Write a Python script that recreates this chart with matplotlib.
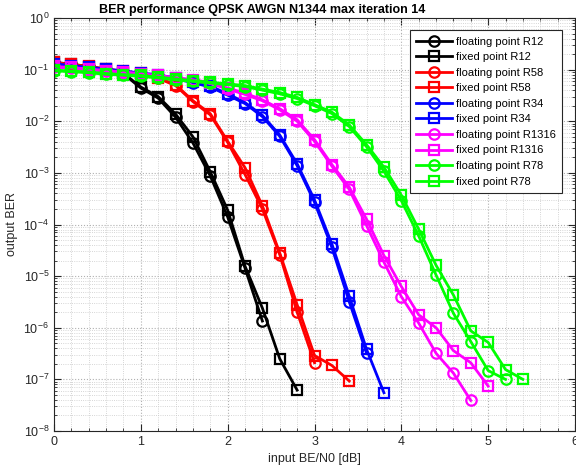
import numpy as np
import matplotlib.pyplot as plt
from matplotlib.ticker import MultipleLocator, LogLocator, NullFormatter

plt.rcParams['font.family'] = ['Liberation Sans', 'DejaVu Sans']

STEP = 0.2

# BER values, one point per 0.2 dB starting at 0 dB
float_r12 = [0.135, 0.126, 0.112, 0.1, 0.083, 0.044, 0.028, 0.012, 3.8e-3, 8.7e-4,
             1.4e-4, 1.43e-5, 1.35e-6]
fixed_r12 = [0.138, 0.128, 0.114, 0.102, 0.085, 0.046, 0.03, 1.38e-2, 5.0e-3, 1.05e-3,
             1.9e-4, 1.56e-5, 2.4e-6, 2.5e-7, 6.2e-8]

float_r58 = [0.135, 0.123, 0.112, 0.1, 0.091, 0.083, 0.068, 0.049, 0.024, 1.33e-2,
             3.9e-3, 9.3e-4, 2.0e-4, 2.6e-5, 2.0e-6, 2.1e-7]
fixed_r58 = [0.138, 0.126, 0.115, 0.103, 0.093, 0.085, 0.07, 0.051, 0.025, 1.4e-2,
             4.1e-3, 1.26e-3, 2.3e-4, 2.8e-5, 2.8e-6, 2.9e-7, 1.86e-7, 9.3e-8]

float_r34 = [0.126, 0.117, 0.107, 0.1, 0.091, 0.083, 0.076, 0.066, 0.056, 0.046,
             0.032, 0.022, 1.23e-2, 5.1e-3, 1.38e-3, 2.7e-4, 3.6e-5, 3.2e-6, 3.2e-7]
fixed_r34 = [0.13, 0.12, 0.11, 0.103, 0.094, 0.086, 0.079, 0.069, 0.058, 0.048,
             0.034, 0.023, 1.3e-2, 5.4e-3, 1.5e-3, 3.0e-4, 4.2e-5, 4.1e-6, 3.8e-7, 5.5e-8]

float_r1316 = [0.112, 0.107, 0.1, 0.093, 0.087, 0.081, 0.074, 0.068, 0.062, 0.054,
               0.042, 0.033, 0.025, 0.0166, 1.0e-2, 4.1e-3, 1.35e-3, 4.8e-4, 9.5e-5,
               1.86e-5, 4.0e-6, 1.23e-6, 3.2e-7, 1.32e-7, 3.9e-8]
fixed_r1316 = [0.115, 0.11, 0.103, 0.096, 0.09, 0.084, 0.077, 0.07, 0.064, 0.056,
               0.044, 0.035, 0.026, 0.0175, 1.07e-2, 4.4e-3, 1.45e-3, 5.3e-4, 1.26e-4,
               2.5e-5, 6.3e-6, 1.78e-6, 1.0e-6, 3.6e-7, 2.1e-7, 7.4e-8]

float_r78 = [0.095, 0.091, 0.087, 0.081, 0.078, 0.074, 0.069, 0.063, 0.059, 0.055,
             0.051, 0.047, 0.04, 0.034, 0.0275, 0.02, 0.0141, 7.9e-3, 3.2e-3, 1.07e-3,
             2.9e-4, 6.0e-5, 1.05e-5, 1.9e-6, 5.4e-7, 1.48e-7, 1.0e-7]
fixed_r78 = [0.098, 0.094, 0.09, 0.084, 0.08, 0.077, 0.072, 0.066, 0.061, 0.057,
             0.053, 0.049, 0.042, 0.036, 0.029, 0.021, 0.015, 8.5e-3, 3.5e-3, 1.29e-3,
             3.7e-4, 8.1e-5, 1.62e-5, 4.3e-6, 8.7e-7, 5.2e-7, 1.55e-7, 1.0e-7]

series = [
    ("floating point R12", float_r12, "k", "o"),
    ("fixed point R12", fixed_r12, "k", "s"),
    ("floating point R58", float_r58, "#ff0000", "o"),
    ("fixed point R58", fixed_r58, "#ff0000", "s"),
    ("floating point R34", float_r34, "#0000ff", "o"),
    ("fixed point R34", fixed_r34, "#0000ff", "s"),
    ("floating point R1316", float_r1316, "#ff00ff", "o"),
    ("fixed point R1316", fixed_r1316, "#ff00ff", "s"),
    ("floating point R78", float_r78, "#00ff00", "o"),
    ("fixed point R78", fixed_r78, "#00ff00", "s"),
]

fig = plt.figure(figsize=(5.76, 4.74), dpi=100)
ax = fig.add_axes([54 / 576, 1 - 431 / 474, 521 / 576, 413 / 474])

for name, ber, col, mk in series:
    snr = np.arange(len(ber)) * STEP
    ax.semilogy(snr, ber, color=col, marker=mk, lw=2, ms=7.5, mfc="none",
                mew=1.6, label=name)

ax.set_xlim(0, 6)
ax.set_ylim(1e-8, 1)
ax.xaxis.set_major_locator(MultipleLocator(1))
ax.xaxis.set_minor_locator(MultipleLocator(0.2))
ax.yaxis.set_major_locator(LogLocator(base=10, numticks=12))
ax.yaxis.set_minor_locator(LogLocator(base=10, subs=np.arange(2, 10), numticks=12))
ax.yaxis.set_minor_formatter(NullFormatter())

ax.grid(which="major", color="#b0b0b0", ls=":", lw=0.8)
ax.grid(which="minor", color="#c8c8c8", ls=":", lw=0.6)
ax.tick_params(which="both", direction="in", top=True, right=True,
               labelsize=9, colors="#262626")
ax.tick_params(which="major", length=5)
ax.tick_params(which="minor", length=2.5)
for sp in ax.spines.values():
    sp.set_color("#262626")

# title sits left of the axes centre in the reference
fig.text(262.5 / 576, 1 - 10 / 474, "BER performance QPSK AWGN N1344 max iteration 14",
         fontsize=9, fontweight="bold", ha="center", va="center")
ax.set_xlabel("input BE/N0 [dB]", fontsize=9, color="#262626")
ax.set_ylabel("output BER", fontsize=9, color="#262626")

leg = ax.legend(loc="upper right", fontsize=8, handlelength=3.2,
                fancybox=False, framealpha=1, edgecolor="#262626",
                borderaxespad=0.3, borderpad=0.55, labelspacing=0.5,
                handletextpad=0.4, bbox_to_anchor=(0.982, 0.978))
leg.get_frame().set_linewidth(0.8)

fig.savefig("out.png", dpi=100)
